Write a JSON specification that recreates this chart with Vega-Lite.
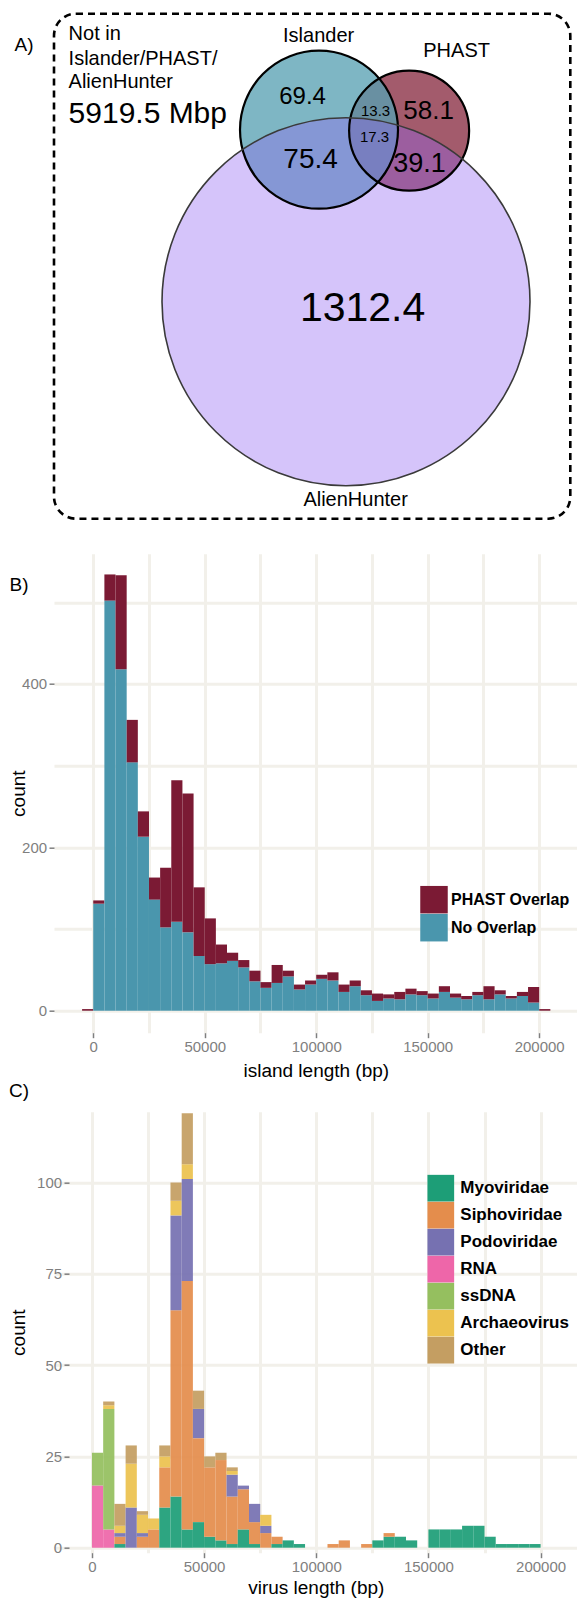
{
  "$schema": "https://vega.github.io/schema/vega-lite/v6.json",
  "background": "white",
  "padding": {"left": 9, "top": 11.7, "right": 0, "bottom": 0},
  "bounds": "flush",
  "spacing": 0,
  "resolve": {"scale": {"color": "independent"}, "legend": {"color": "independent"}},
  "config": {
    "font": "Liberation Sans",
    "view": {"stroke": null},
    "axis": {"domain": false, "gridColor": "#F2F0EA", "gridWidth": 3, "labelColor": "#7F7F7F", "labelFontSize": 15, "tickColor": "#7F7F7F", "tickSize": 5, "tickWidth": 1.5, "titleFontSize": 19, "titleFontWeight": "normal", "titleColor": "#000000", "labelPadding": 2},
    "title": {"fontSize": 19, "fontWeight": "normal", "color": "#000000", "anchor": "start"}
  },
  "vconcat": [
    {
      "width": 516.3,
      "height": 505,
      "view": {"stroke": "#000000", "strokeWidth": 2.6, "strokeDash": [7, 5], "cornerRadius": 22},
      "title": {"text": "A)", "frame": "group", "dx": -39.4, "offset": -56, "baseline": "alphabetic"},
      "data": {"values": [
        {"set": "PHAST", "total": 127.8, "cx": 88.78, "cy": 29.25},
        {"set": "Islander", "total": 175.4, "cx": 66.25, "cy": 29},
        {"set": "AlienHunter", "total": 1444.2, "cx": 73, "cy": 72}
      ]},
      "layer": [
        {
          "mark": {"type": "point", "shape": "circle", "filled": true, "opacity": 1, "strokeWidth": 0},
          "encoding": {
            "x": {"field": "cx", "type": "quantitative", "scale": {"domain": [0, 129.075], "nice": false, "zero": false}, "axis": null},
            "y": {"field": "cy", "type": "quantitative", "scale": {"domain": [0, 126.25], "reverse": true, "nice": false, "zero": false}, "axis": null},
            "fill": {"condition": [{"test": "datum.set == 'AlienHunter'", "value": "#9164F2"}, {"test": "datum.set == 'Islander'", "value": "#57A0B2"}], "value": "#A35B6C"},
            "fillOpacity": {"condition": [{"test": "datum.set == 'AlienHunter'", "value": 0.38}, {"test": "datum.set == 'Islander'", "value": 0.77}], "value": 1},
            "size": {"condition": [{"test": "datum.set == 'AlienHunter'", "value": 135424}, {"test": "datum.set == 'Islander'", "value": 24964}], "value": 14400}
          }
        },
        {
          "mark": {"type": "point", "shape": "circle", "filled": false, "opacity": 1},
          "encoding": {
            "x": {"field": "cx", "type": "quantitative", "scale": {"domain": [0, 129.075], "nice": false, "zero": false}, "axis": null},
            "y": {"field": "cy", "type": "quantitative", "scale": {"domain": [0, 126.25], "reverse": true, "nice": false, "zero": false}, "axis": null},
            "stroke": {"condition": [{"test": "datum.set == 'AlienHunter'", "value": "#3A3A3A"}], "value": "#000000"},
            "strokeWidth": {"condition": [{"test": "datum.set == 'AlienHunter'", "value": 1.6}], "value": 2.2},
            "size": {"condition": [{"test": "datum.set == 'AlienHunter'", "value": 135424}, {"test": "datum.set == 'Islander'", "value": 24964}], "value": 14400}
          }
        },
        {
          "data": {"values": [
            {"t": "Islander", "x": 66.15, "y": 5.5},
            {"t": "PHAST", "x": 100.65, "y": 9.25},
            {"t": "AlienHunter", "x": 75.4, "y": 121.5},
            {"t": "69.4", "x": 62.15, "y": 20.9},
            {"t": "58.1", "x": 93.65, "y": 24.25},
            {"t": "13.3", "x": 80.4, "y": 24.25},
            {"t": "17.3", "x": 80.15, "y": 30.9},
            {"t": "75.4", "x": 64.15, "y": 36.6},
            {"t": "39.1", "x": 91.4, "y": 37.6},
            {"t": "1312.4", "x": 77.15, "y": 73.75}
          ]},
          "mark": {"type": "text", "align": "center", "baseline": "middle", "color": "#000000"},
          "encoding": {
            "x": {"field": "x", "type": "quantitative", "scale": {"domain": [0, 129.075], "nice": false, "zero": false}, "axis": null},
            "y": {"field": "y", "type": "quantitative", "scale": {"domain": [0, 126.25], "reverse": true, "nice": false, "zero": false}, "axis": null},
            "text": {"field": "t"},
            "size": {"condition": [
              {"test": "datum.t == '1312.4'", "value": 41},
              {"test": "datum.t == '13.3' || datum.t == '17.3'", "value": 15},
              {"test": "datum.t == '69.4'", "value": 24},
              {"test": "datum.t == '58.1'", "value": 26},
              {"test": "datum.t == '39.1'", "value": 27},
              {"test": "datum.t == '75.4'", "value": 28}
            ], "value": 20}
          }
        },
        {
          "data": {"values": [
            {"t": "Not in", "x": 3.65, "y": 5.08},
            {"t": "Islander/PHAST/", "x": 3.65, "y": 11.33},
            {"t": "AlienHunter", "x": 3.65, "y": 17.18},
            {"t": "5919.5 Mbp", "x": 3.65, "y": 25}
          ]},
          "mark": {"type": "text", "align": "left", "baseline": "middle", "color": "#000000"},
          "encoding": {
            "x": {"field": "x", "type": "quantitative", "scale": {"domain": [0, 129.075], "nice": false, "zero": false}, "axis": null},
            "y": {"field": "y", "type": "quantitative", "scale": {"domain": [0, 126.25], "reverse": true, "nice": false, "zero": false}, "axis": null},
            "text": {"field": "t"},
            "size": {"condition": [{"test": "datum.t == '5919.5 Mbp'", "value": 30}], "value": 20}
          }
        }
      ]
    },
    {"width": 1, "height": 35, "data": {"values": []}, "mark": "point"},
    {
      "width": 523.6,
      "height": 479,
      "title": {"text": "B)", "frame": "bounds", "offset": -56, "baseline": "alphabetic"},
      "data": {"values": [
        {"s": -5000, "e": 0, "No Overlap": 0, "PHAST Overlap": 2},
        {"s": 0, "e": 5000, "No Overlap": 131, "PHAST Overlap": 4},
        {"s": 5000, "e": 10000, "No Overlap": 502, "PHAST Overlap": 32},
        {"s": 10000, "e": 15000, "No Overlap": 418, "PHAST Overlap": 115},
        {"s": 15000, "e": 20000, "No Overlap": 304, "PHAST Overlap": 52},
        {"s": 20000, "e": 25000, "No Overlap": 213, "PHAST Overlap": 31},
        {"s": 25000, "e": 30000, "No Overlap": 136, "PHAST Overlap": 27},
        {"s": 30000, "e": 35000, "No Overlap": 102, "PHAST Overlap": 73},
        {"s": 35000, "e": 40000, "No Overlap": 109, "PHAST Overlap": 173},
        {"s": 40000, "e": 45000, "No Overlap": 96, "PHAST Overlap": 170},
        {"s": 45000, "e": 50000, "No Overlap": 67, "PHAST Overlap": 84},
        {"s": 50000, "e": 55000, "No Overlap": 57, "PHAST Overlap": 56},
        {"s": 55000, "e": 60000, "No Overlap": 58, "PHAST Overlap": 23},
        {"s": 60000, "e": 65000, "No Overlap": 61, "PHAST Overlap": 10},
        {"s": 65000, "e": 70000, "No Overlap": 53, "PHAST Overlap": 9},
        {"s": 70000, "e": 75000, "No Overlap": 36, "PHAST Overlap": 13},
        {"s": 75000, "e": 80000, "No Overlap": 28, "PHAST Overlap": 7},
        {"s": 80000, "e": 85000, "No Overlap": 34, "PHAST Overlap": 22},
        {"s": 85000, "e": 90000, "No Overlap": 42, "PHAST Overlap": 7},
        {"s": 90000, "e": 95000, "No Overlap": 26, "PHAST Overlap": 6},
        {"s": 95000, "e": 100000, "No Overlap": 32, "PHAST Overlap": 5},
        {"s": 100000, "e": 105000, "No Overlap": 39, "PHAST Overlap": 5},
        {"s": 105000, "e": 110000, "No Overlap": 37, "PHAST Overlap": 10},
        {"s": 110000, "e": 115000, "No Overlap": 23, "PHAST Overlap": 9},
        {"s": 115000, "e": 120000, "No Overlap": 30, "PHAST Overlap": 7},
        {"s": 120000, "e": 125000, "No Overlap": 19, "PHAST Overlap": 6},
        {"s": 125000, "e": 130000, "No Overlap": 12, "PHAST Overlap": 9},
        {"s": 130000, "e": 135000, "No Overlap": 15, "PHAST Overlap": 5},
        {"s": 135000, "e": 140000, "No Overlap": 14, "PHAST Overlap": 9},
        {"s": 140000, "e": 145000, "No Overlap": 20, "PHAST Overlap": 7},
        {"s": 145000, "e": 150000, "No Overlap": 19, "PHAST Overlap": 5},
        {"s": 150000, "e": 155000, "No Overlap": 15, "PHAST Overlap": 6},
        {"s": 155000, "e": 160000, "No Overlap": 23, "PHAST Overlap": 7},
        {"s": 160000, "e": 165000, "No Overlap": 16, "PHAST Overlap": 5},
        {"s": 165000, "e": 170000, "No Overlap": 14, "PHAST Overlap": 4},
        {"s": 170000, "e": 175000, "No Overlap": 19, "PHAST Overlap": 4},
        {"s": 175000, "e": 180000, "No Overlap": 14, "PHAST Overlap": 16},
        {"s": 180000, "e": 185000, "No Overlap": 20, "PHAST Overlap": 5},
        {"s": 185000, "e": 190000, "No Overlap": 15, "PHAST Overlap": 3},
        {"s": 190000, "e": 195000, "No Overlap": 18, "PHAST Overlap": 5},
        {"s": 195000, "e": 200000, "No Overlap": 10, "PHAST Overlap": 19},
        {"s": 200000, "e": 205000, "No Overlap": 0, "PHAST Overlap": 2}
      ]},
      "transform": [{"fold": ["No Overlap", "PHAST Overlap"], "as": ["group", "count"]}],
      "mark": {"type": "bar", "orient": "vertical"},
      "encoding": {
        "x": {"field": "s", "type": "quantitative", "scale": {"domain": [-15353, 214983], "nice": false, "zero": false},
          "axis": {"values": [0, 25000, 50000, 75000, 100000, 125000, 150000, 175000, 200000], "format": "d", "labelExpr": "datum.value % 50000 == 0 ? datum.label : ''", "tickOpacity": {"condition": {"test": "datum.value % 50000 == 0", "value": 1}, "value": 0}, "title": "island length (bp)", "titlePadding": 6.5}},
        "x2": {"field": "e"},
        "y": {"field": "count", "type": "quantitative", "stack": "zero", "scale": {"domain": [-26.9, 559.4], "nice": false, "zero": false},
          "axis": {"values": [0, 100, 200, 300, 400, 500], "format": "d", "labelExpr": "datum.value % 200 == 0 ? datum.label : ''", "tickOpacity": {"condition": {"test": "datum.value % 200 == 0", "value": 1}, "value": 0}, "title": "count", "titlePadding": -7, "labelPadding": 2.4}},
        "color": {"field": "group", "type": "nominal", "scale": {"domain": ["PHAST Overlap", "No Overlap"], "range": ["#7B1A34", "#4A96AD"]},
          "legend": {"title": null, "orient": "none", "legendX": 366, "legendY": 332, "symbolType": "square", "symbolSize": 756, "symbolStrokeWidth": 0, "symbolOpacity": 1, "labelFontSize": 16, "labelFontWeight": "bold", "labelColor": "#000000", "rowPadding": 0, "labelOffset": 3, "padding": 0}},
        "order": {"field": "group", "sort": "ascending"}
      }
    },
    {"width": 1, "height": 79, "data": {"values": []}, "mark": "point"},
    {
      "width": 523.6,
      "height": 441,
      "title": {"text": "C)", "frame": "bounds", "offset": -4, "baseline": "alphabetic"},
      "data": {"values": [
        {"s": 0, "e": 5000, "RNA": 17, "ssDNA": 9},
        {"s": 5000, "e": 10000, "RNA": 5, "ssDNA": 33, "Archaeovirus": 1, "Other": 1},
        {"s": 10000, "e": 15000, "Myoviridae": 1, "Siphoviridae": 2, "Podoviridae": 1, "Archaeovirus": 2, "Other": 6},
        {"s": 15000, "e": 20000, "Podoviridae": 11, "Archaeovirus": 12, "Other": 5},
        {"s": 20000, "e": 25000, "Siphoviridae": 3, "Podoviridae": 1, "Archaeovirus": 5, "Other": 1},
        {"s": 25000, "e": 30000, "Siphoviridae": 5, "Archaeovirus": 3},
        {"s": 30000, "e": 35000, "Myoviridae": 11, "Siphoviridae": 11, "Archaeovirus": 3, "Other": 3},
        {"s": 35000, "e": 40000, "Myoviridae": 14, "Siphoviridae": 51, "Podoviridae": 26, "Archaeovirus": 4, "Other": 5},
        {"s": 40000, "e": 45000, "Myoviridae": 5, "Siphoviridae": 68, "Podoviridae": 28, "Archaeovirus": 4, "Other": 14},
        {"s": 45000, "e": 50000, "Myoviridae": 7, "Siphoviridae": 23, "Podoviridae": 8, "Other": 5},
        {"s": 50000, "e": 55000, "Myoviridae": 3, "Siphoviridae": 19, "Other": 3},
        {"s": 55000, "e": 60000, "Myoviridae": 2, "Siphoviridae": 22, "Other": 2},
        {"s": 60000, "e": 65000, "Myoviridae": 1, "Siphoviridae": 13, "Podoviridae": 6, "Archaeovirus": 1, "Other": 1},
        {"s": 65000, "e": 70000, "Myoviridae": 5, "Siphoviridae": 11, "Podoviridae": 1},
        {"s": 70000, "e": 75000, "Myoviridae": 1, "Siphoviridae": 6, "Podoviridae": 5},
        {"s": 75000, "e": 80000, "Siphoviridae": 4, "Podoviridae": 2, "Archaeovirus": 3},
        {"s": 80000, "e": 85000, "Myoviridae": 1, "Siphoviridae": 2},
        {"s": 85000, "e": 90000, "Myoviridae": 2},
        {"s": 90000, "e": 95000, "Myoviridae": 1},
        {"s": 105000, "e": 110000, "Siphoviridae": 1},
        {"s": 110000, "e": 115000, "Siphoviridae": 2},
        {"s": 120000, "e": 125000, "Siphoviridae": 1},
        {"s": 125000, "e": 130000, "Myoviridae": 2},
        {"s": 130000, "e": 135000, "Myoviridae": 3, "Siphoviridae": 1},
        {"s": 135000, "e": 140000, "Myoviridae": 3},
        {"s": 140000, "e": 145000, "Myoviridae": 2},
        {"s": 150000, "e": 155000, "Myoviridae": 5},
        {"s": 155000, "e": 160000, "Myoviridae": 5},
        {"s": 160000, "e": 165000, "Myoviridae": 5},
        {"s": 165000, "e": 170000, "Myoviridae": 6},
        {"s": 170000, "e": 175000, "Myoviridae": 6},
        {"s": 175000, "e": 180000, "Myoviridae": 3},
        {"s": 180000, "e": 185000, "Myoviridae": 1},
        {"s": 185000, "e": 190000, "Myoviridae": 1},
        {"s": 190000, "e": 195000, "Myoviridae": 1},
        {"s": 195000, "e": 200000, "Myoviridae": 1}
      ]},
      "transform": [
        {"fold": ["Myoviridae", "Siphoviridae", "Podoviridae", "RNA", "ssDNA", "Archaeovirus", "Other"], "as": ["family", "count"]},
        {"filter": "datum.count > 0"},
        {"calculate": "indexof(['Myoviridae','Siphoviridae','Podoviridae','RNA','ssDNA','Archaeovirus','Other'], datum.family)", "as": "rank"}
      ],
      "mark": {"type": "bar", "orient": "vertical", "fillOpacity": 0.93},
      "encoding": {
        "x": {"field": "s", "type": "quantitative", "scale": {"domain": [-14693, 214273], "nice": false, "zero": false},
          "axis": {"values": [0, 25000, 50000, 75000, 100000, 125000, 150000, 175000, 200000], "format": "d", "labelExpr": "datum.value % 50000 == 0 ? datum.label : ''", "tickOpacity": {"condition": {"test": "datum.value % 50000 == 0", "value": 1}, "value": 0}, "title": "virus length (bp)", "titlePadding": 3.5}},
        "x2": {"field": "e"},
        "y": {"field": "count", "type": "quantitative", "stack": "zero", "scale": {"domain": [-1.37, 119.4], "nice": false, "zero": false},
          "axis": {"values": [0, 25, 50, 75, 100], "format": "d", "title": "count", "offset": -15, "titlePadding": 8.5, "labelPadding": 2.4}},
        "color": {"field": "family", "type": "nominal", "scale": {"domain": ["Myoviridae", "Siphoviridae", "Podoviridae", "RNA", "ssDNA", "Archaeovirus", "Other"], "range": ["#1D9E77", "#E48D4C", "#7671B1", "#EE66A9", "#95BF5F", "#ECC24F", "#C49E62"]},
          "legend": {"title": null, "orient": "none", "legendX": 373.3, "legendY": 63, "symbolType": "square", "symbolSize": 713, "symbolStrokeWidth": 0, "symbolOpacity": 1, "labelFontSize": 17, "labelFontWeight": "bold", "labelColor": "#000000", "rowPadding": 0, "labelOffset": 6, "padding": 0}},
        "order": {"field": "rank", "type": "quantitative", "sort": "ascending"}
      }
    }
  ]
}
